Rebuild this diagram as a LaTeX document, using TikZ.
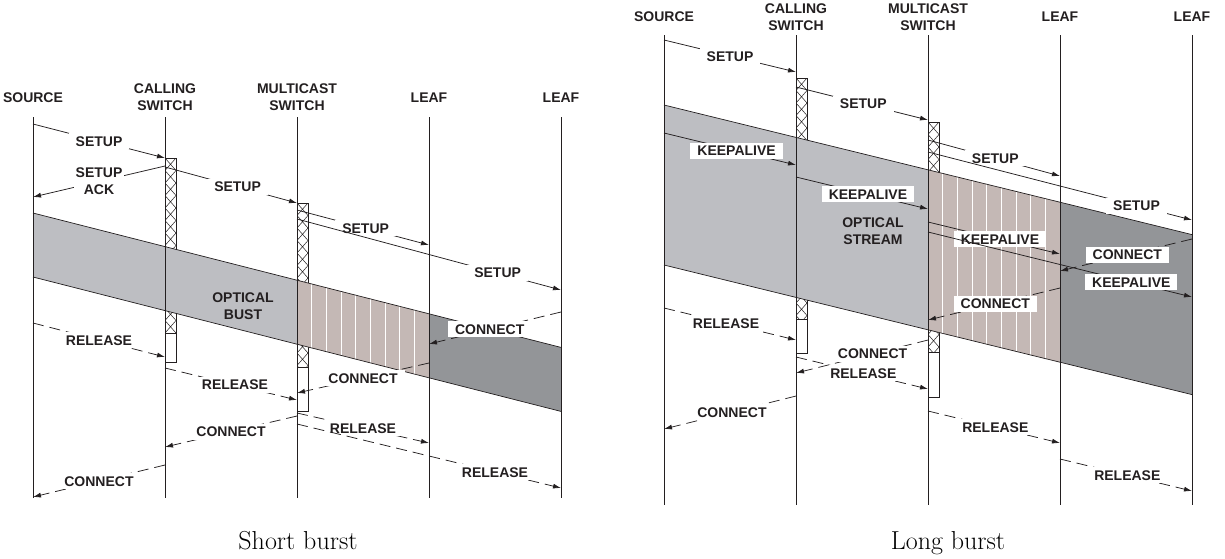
\documentclass[tikz,border=0pt]{standalone}
\usepackage{fontspec}
\usepackage{tikz}
\usetikzlibrary{arrows.meta}
\newfontfamily\lblfont{Liberation Sans}
\definecolor{burstgray}{RGB}{189,190,194}
\definecolor{burstpink}{RGB}{196,184,181}
\definecolor{burstdark}{RGB}{147,149,152}
\definecolor{inkgray}{RGB}{35,31,32}

% hatched switch box: x, top, end of hatch, bottom
\newcommand{\switchbox}[4]{%
  \fill[white] (#1,#2) rectangle (#1+11,#4);
  \begin{scope}
    \clip (#1,#2) rectangle (#1+11,#3);
    \foreach \k in {0,...,30}
      \draw[line width=0.5pt, inkgray] (#1,#2+\k*12.5) -- (#1+11,#2+\k*12.5+12.5)
        (#1+11,#2+\k*12.5) -- (#1,#2+\k*12.5+12.5);
  \end{scope}
  \draw[line width=0.7pt, inkgray] (#1,#2) rectangle (#1+11,#4) (#1,#3) -- (#1+11,#3);
}

% optical burst band: source x, top y, height, drop per span
\newcommand{\burstband}[4]{%
  \fill[burstgray] (#1,#2) -- (#1+264,#2+2*#4) -- ++(0,#3) -- (#1,#2+#3) -- cycle;
  \fill[burstpink] (#1+264,#2+2*#4) -- (#1+396,#2+3*#4) -- ++(0,#3) -- (#1+264,#2+2*#4+#3) -- cycle;
  \fill[burstdark] (#1+396,#2+3*#4) -- (#1+528,#2+4*#4) -- ++(0,#3) -- (#1+396,#2+3*#4+#3) -- cycle;
  \foreach \k in {1,...,8}
    \draw[white, line width=0.8pt] (#1+264+\k*14.67,{#2+2*#4+\k*14.67*#4/132}) -- ++(0,#3);
  \draw[line width=0.7pt, inkgray] (#1,#2) -- (#1+528,#2+4*#4) (#1,#2+#3) -- (#1+528,#2+4*#4+#3);
}

\begin{document}
\begin{tikzpicture}[
    x=1pt, y=-1pt,
    hdr/.style={font=\lblfont\bfseries\fontsize{14}{17}\selectfont, align=center, text=inkgray},
    lbl/.style={fill=white, font=\lblfont\bfseries\fontsize{14}{17}\selectfont, text=inkgray, inner xsep=7pt, inner ysep=3pt, text height=10pt, text depth=0pt},
    lbltwo/.style={fill=white, font=\lblfont\bfseries\fontsize{14}{17}\selectfont, text=inkgray, align=center, inner sep=2pt},
    life/.style={line width=0.85pt, inkgray},
    msg/.style={-{Latex[length=8pt,width=5pt]}, line width=0.75pt, inkgray},
    back/.style={msg, dash pattern=on 11pt off 6pt},
    caption/.style={font=\fontsize{26}{30}\selectfont, anchor=base}
]
\useasboundingbox (0,0) rectangle (1225,558);

% Short burst
\node[hdr] (srcL) at (33,98) {SOURCE};
\node[hdr] (callL) at (165,97) {CALLING\\SWITCH};
\node[hdr] (mcL) at (297,97) {MULTICAST\\SWITCH};
\node[hdr] (leafL1) at (429,98) {LEAF};
\node[hdr] (leafL2) at (561,98) {LEAF};

\switchbox{165}{158}{333}{362}
\switchbox{297}{203}{367}{411}
\burstband{33}{213}{64}{33.6}
\foreach \n in {srcL,callL,mcL,leafL1,leafL2}
  \draw[life] (\n |- 0,117) -- (\n |- 0,498);

\draw[msg] (srcL |- 0,124) -- node[lbl] {SETUP} (callL |- 0,158);
\draw[msg] (callL |- 0,166) -- node[lbltwo] {SETUP\\ACK} (srcL |- 0,197);
\draw[msg] (callL |- 0,167) -- node[lbl, pos=0.55] {SETUP} (mcL |- 0,203);
\draw[msg] (mcL |- 0,210) -- node[lbl, pos=0.52] {SETUP} (leafL1 |- 0,245);
\draw[msg] (mcL |- 0,219) -- node[lbl, pos=0.76] {SETUP} (leafL2 |- 0,290);

\node[hdr] (optL) at (243,306) {OPTICAL\\BUST};

\draw[back] (srcL |- 0,323) -- node[lbl] {RELEASE} (callL |- 0,357);
\draw[back] (callL |- 0,368) -- node[lbl, pos=0.53] {RELEASE} (mcL |- 0,400);
\draw[back] (leafL2 |- 0,312) -- node[lbl, pos=0.54] {CONNECT} (leafL1 |- 0,344);
\draw[back] (leafL1 |- 0,363) -- node[lbl] {CONNECT} (mcL |- 0,393);
\draw[back] (mcL |- 0,413) -- node[lbl] {RELEASE} (leafL1 |- 0,443);
\draw[back] (mcL |- 0,416) -- node[lbl] {CONNECT} (callL |- 0,447);
\draw[back] (mcL |- 0,424) -- node[lbl, pos=0.75] {RELEASE} (leafL2 |- 0,488);
\draw[back] (callL |- 0,465) -- node[lbl] {CONNECT} (srcL |- 0,497);

% Long burst
\node[hdr] (srcR) at (664,17) {SOURCE};
\node[hdr] (callR) at (796,17) {CALLING\\SWITCH};
\node[hdr] (mcR) at (928,17) {MULTICAST\\SWITCH};
\node[hdr] (leafR1) at (1060,17) {LEAF};
\node[hdr] (leafR2) at (1192,17) {LEAF};

\switchbox{796}{78}{319}{353}
\switchbox{928}{122}{352}{397}
\burstband{664}{105}{160}{32.4}
\foreach \n in {srcR,callR,mcR,leafR1,leafR2}
  \draw[life] (\n |- 0,35) -- (\n |- 0,505);

\draw[msg] (srcR |- 0,40) -- node[lbl] {SETUP} (callR |- 0,72);
\draw[msg] (callR |- 0,87) -- node[lbl, pos=0.51] {SETUP} (mcR |- 0,120);
\draw[msg] (mcR |- 0,140) -- node[lbl, pos=0.51] {SETUP} (leafR1 |- 0,176);
\draw[msg] (mcR |- 0,152) -- node[lbl, pos=0.79] {SETUP} (leafR2 |- 0,220);

\draw[msg] (srcR |- 0,133) -- node[lbl, pos=0.55] {KEEPALIVE} (callR |- 0,165);
\draw[msg] (callR |- 0,177) -- node[lbl, pos=0.545] {KEEPALIVE} (mcR |- 0,209);
\draw[msg] (mcR |- 0,222) -- node[lbl, pos=0.545] {KEEPALIVE} (leafR1 |- 0,254);
\draw[msg] (mcR |- 0,232) -- node[lbl, pos=0.77] {KEEPALIVE} (leafR2 |- 0,297);

\node[hdr] (optR) at (873,231) {OPTICAL\\STREAM};

\draw[back] (leafR2 |- 0,239) -- node[lbl, pos=0.49] {CONNECT} (leafR1 |- 0,271);
\draw[back] (leafR1 |- 0,288) -- node[lbl, pos=0.49] {CONNECT} (mcR |- 0,320);
\draw[back] (srcR |- 0,308) -- node[lbl, pos=0.47] {RELEASE} (callR |- 0,340);
\draw[back] (callR |- 0,357) -- node[lbl, pos=0.51] {RELEASE} (mcR |- 0,389);
\draw[back] (mcR |- 0,340) -- node[lbl, pos=0.42] {CONNECT} (callR |- 0,373);
\draw[back] (callR |- 0,396) -- node[lbl, pos=0.485] {CONNECT} (srcR |- 0,429);
\draw[back] (mcR |- 0,411) -- node[lbl, pos=0.51] {RELEASE} (leafR1 |- 0,443);
\draw[back] (leafR1 |- 0,459) -- node[lbl, pos=0.51] {RELEASE} (leafR2 |- 0,491);

% captions
\node[caption] (capL) at (298,549) {Short burst};
\node[caption] (capR) at (948,549) {Long burst};
\end{tikzpicture}
\end{document}
